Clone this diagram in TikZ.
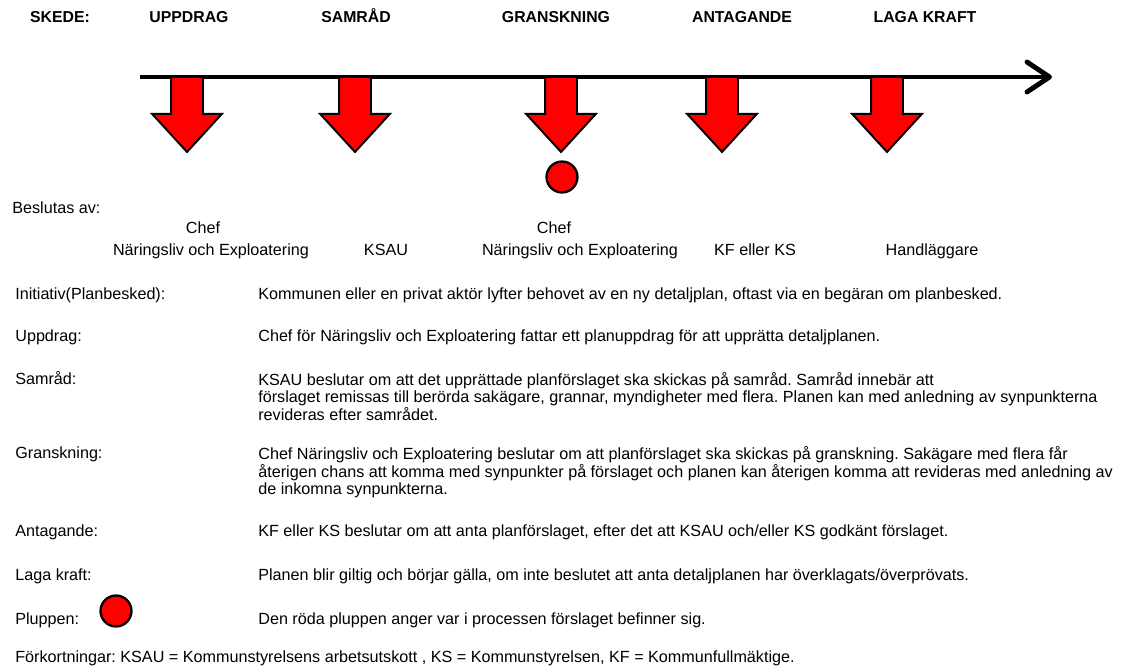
\documentclass[tikz,border=0pt]{standalone}
\usepackage{fontspec}
\setmainfont{Liberation Sans}
\usetikzlibrary{shapes.arrows,arrows.meta}
\frenchspacing

\begin{document}
\begin{tikzpicture}
  [x=0.02cm, y=-0.02cm,
   phase/.style={font=\bfseries\fontsize{9}{10}\selectfont, inner sep=0pt, anchor=base},
   who/.style={font=\fontsize{9.2}{10}\selectfont, inner sep=0pt, anchor=base},
   lbl/.style={font=\fontsize{9.2}{10}\selectfont, inner sep=0pt, anchor=base west},
   desc/.style={font=\fontsize{9.2}{8.3}\selectfont, inner sep=0pt, anchor=north west, align=left},
   axis/.style={line width=2.8pt, -{Straight Barb[length=0.45cm, width=0.6cm, round]}},
   drop/.style={single arrow, draw, fill=red, line width=1.1pt, rotate=-90,
                anchor=tail, outer sep=0pt, inner xsep=0pt, inner ysep=0.3cm,
                minimum height=1.5cm,
                single arrow head extend=0.38cm, single arrow tip angle=85},
   plupp/.style={circle, draw, fill=red, line width=1.3pt, minimum size=0.62cm, inner sep=0pt}
  ]
  \useasboundingbox (0,0) rectangle (1122,669);

  % skeden
  \node[phase] (skede) at (60,23)  {SKEDE:};
  \node[phase] (pU)    at (189,23) {UPPDRAG};
  \node[phase] (pS)    at (356,23) {SAMRÅD};
  \node[phase] (pG)    at (556,23) {GRANSKNING};
  \node[phase] (pA)    at (742,23) {ANTAGANDE};
  \node[phase] (pL)    at (925,23) {LAGA KRAFT};

  % tidslinje
  \coordinate (t0) at (140,77);
  \coordinate (t1) at (1052,77);
  \draw[axis] (t0) -- (t1);

  \node[drop] (dU) at (187,77) {};
  \node[drop] (dS) at (355,77) {};
  \node[drop] (dG) at (561,77) {};
  \node[drop] (dA) at (722,77) {};
  \node[drop] (dL) at (887,77) {};
  \node[plupp] (now) at (562,177) {};

  % beslutas av
  \node[lbl] (besl) at (12,213) {Beslutas av:};
  \node[who] (wU1) at (203,233) {Chef};
  \node[who] (wU2) at (211,255) {Näringsliv och Exploatering};
  \node[who] (wS)  at (386,255) {KSAU};
  \node[who] (wG1) at (554,233) {Chef};
  \node[who] (wG2) at (580,255) {Näringsliv och Exploatering};
  \node[who] (wA)  at (755,255) {KF eller KS};
  \node[who] (wL)  at (932,255) {Handläggare};

  % förklaringar
  \node[lbl] (lI) at (15,299) {Initiativ(Planbesked):};
  \node[lbl] (lU) at (15,341) {Uppdrag:};
  \node[lbl] (lS) at (15,384) {Samråd:};
  \node[lbl] (lG) at (15,458) {Granskning:};
  \node[lbl] (lA) at (15,536) {Antagande:};
  \node[lbl] (lL) at (15,580) {Laga kraft:};
  \node[lbl] (lP) at (15,624) {Pluppen:};
  \node[plupp] (key) at (116,611) {};

  \node[lbl]  (xI) at (258,299) {Kommunen eller en privat aktör lyfter behovet av en ny detaljplan, oftast via en begäran om planbesked.};
  \node[lbl]  (xU) at (258,341) {Chef för Näringsliv och Exploatering fattar ett planuppdrag för att upprätta detaljplanen.};
  \node[desc] (xS) at (258,372) {KSAU beslutar om att det upprättade planförslaget ska skickas på samråd. Samråd innebär att\\
    förslaget remissas till berörda sakägare, grannar, myndigheter med flera. Planen kan med anledning av synpunkterna\\
    revideras efter samrådet.};
  \node[desc] (xG) at (258,446) {Chef Näringsliv och Exploatering beslutar om att planförslaget ska skickas på granskning. Sakägare med flera får\\
    återigen chans att komma med synpunkter på förslaget och planen kan återigen komma att revideras med anledning av\\
    de inkomna synpunkterna.};
  \node[lbl]  (xA) at (258,536) {KF eller KS beslutar om att anta planförslaget, efter det att KSAU och/eller KS godkänt förslaget.};
  \node[lbl]  (xL) at (258,580) {Planen blir giltig och börjar gälla, om inte beslutet att anta detaljplanen har överklagats/överprövats.};
  \node[lbl]  (xP) at (258,624) {Den röda pluppen anger var i processen förslaget befinner sig.};
  \node[lbl]  (abbr) at (15,662) {Förkortningar: KSAU = Kommunstyrelsens arbetsutskott , KS = Kommunstyrelsen, KF = Kommunfullmäktige.};
\end{tikzpicture}
\end{document}
